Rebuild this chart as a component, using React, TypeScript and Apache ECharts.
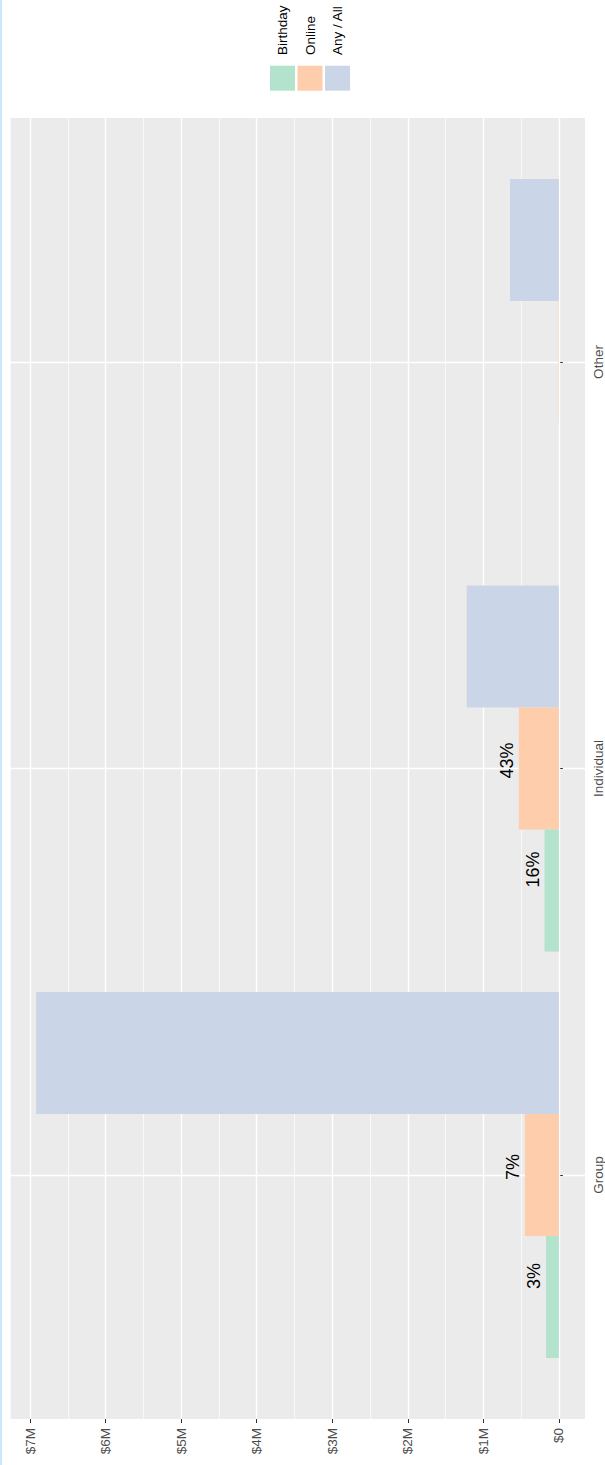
import React, { useEffect, useRef } from "react";
import * as echarts from "echarts";

const categories = ["Group", "Individual", "Other"];
const seriesNames = ["Birthday", "Online", "Any / All"];
const birthday = [170000, 190000, 0];
const online = [450000, 530000, 5000];
const anyAll = [6920000, 1220000, 647000];
const birthdayPct = ["3%", "16%", ""];
const onlinePct = ["7%", "43%", ""];
const majorTicks = [0, 1000000, 2000000, 3000000, 4000000, 5000000, 6000000, 7000000];
const colors = ["#B3E2CD", "#FDCDAC", "#CBD5E8"];

const FONT = "'Liberation Sans', Arial, sans-serif";

export default function App() {
  const ref = useRef<HTMLDivElement>(null);
  useEffect(() => {
    if (!ref.current) return;
    const chart = echarts.init(ref.current, null, { renderer: "svg" });
    const maxVal = Math.max(...birthday, ...online, ...anyAll);
    const xMin = -0.05 * maxVal;
    const xMax = 1.05 * maxVal;
    const gridLeft = 10;
    const gridWidth = 575;
    const panelTop = 118;
    const panelHeight = 1301;
    const catTop = 362;
    const catHeight = 813;

    const fmt = (v: number) => (v === 0 ? "$0" : "$" + v / 1e6 + "M");

    const seriesData = [birthday, online, anyAll];
    const pctData = [birthdayPct, onlinePct, null];
    const offsets = [[21, 0], [8, 0], [0, 0]];

    // echarts stacks horizontal dodged bars top-down, so add in reverse order
    const order = [2, 1, 0];
    const series = order.map((i) => ({
      type: "bar",
      name: seriesNames[i],
      xAxisIndex: 2,
      yAxisIndex: 1,
      data: seriesData[i],
      clip: false,
      barGap: "0%",
      barCategoryGap: "10%",
      itemStyle: { color: colors[i] },
      label: pctData[i]
        ? {
            show: true,
            position: "left",
            distance: 3,
            rotate: 90,
            align: "center",
            verticalAlign: "bottom",
            offset: offsets[i],
            fontSize: 18,
            fontFamily: FONT,
            color: "#000000",
            formatter: (p: any) => (pctData[i] as string[])[p.dataIndex],
          }
        : { show: false },
    }));

    const legendGraphics: any[] = [];
    seriesNames.forEach((n, i) => {
      legendGraphics.push({
        type: "rect",
        x: 270 + i * 27.5,
        y: 65.7,
        shape: { x: 0, y: 0, width: 25, height: 25 },
        style: { fill: colors[i] },
      });
      legendGraphics.push({
        type: "text",
        x: 282.5 + i * 27.5,
        y: 55,
        rotation: Math.PI / 2,
        style: {
          text: n,
          align: "left",
          verticalAlign: "middle",
          fontSize: 13.5,
          fontFamily: FONT,
          fill: "#000000",
        },
      });
    });

    chart.setOption({
      animation: false,
      backgroundColor: "#FFFFFF",
      textStyle: { fontFamily: FONT },
      grid: [
        {
          left: gridLeft,
          top: panelTop,
          width: gridWidth,
          height: panelHeight,
          show: true,
          backgroundColor: "#EBEBEB",
          borderWidth: 0,
        },
        {
          left: gridLeft,
          top: catTop,
          width: gridWidth,
          height: catHeight,
        },
      ],
      xAxis: [
        {
          type: "value",
          gridIndex: 0,
          min: xMin,
          max: xMax,
          inverse: true,
          minInterval: 1000000,
          maxInterval: 1000000,
          axisLine: { show: false },
          axisTick: {
            show: true,
            length: 4,
            customValues: majorTicks,
            lineStyle: { color: "#333333", width: 1 },
          },
          axisLabel: {
            customValues: majorTicks,
            rotate: 90,
            margin: 9,
            fontSize: 13.5,
            color: "#4D4D4D",
            fontFamily: FONT,
            formatter: fmt,
          },
          splitLine: { show: true, lineStyle: { color: "#FFFFFF", width: 1.4 } },
          z: 2,
        },
        {
          type: "value",
          gridIndex: 0,
          min: xMin,
          max: xMax,
          inverse: true,
          minInterval: 500000,
          maxInterval: 500000,
          position: "bottom",
          axisLine: { show: false },
          axisTick: { show: false },
          axisLabel: { show: false },
          splitLine: { show: true, lineStyle: { color: "#FFFFFF", width: 0.7 } },
          z: 1,
        },
        {
          type: "value",
          gridIndex: 1,
          min: xMin,
          max: xMax,
          inverse: true,
          show: false,
        },
      ],
      yAxis: [
        {
          type: "value",
          gridIndex: 0,
          min: 0,
          max: 1,
          show: false,
        },
        {
          type: "category",
          gridIndex: 1,
          data: categories,
          position: "right",
          boundaryGap: false,
          axisLine: { show: false },
          axisTick: { show: true, length: 4, lineStyle: { color: "#333333", width: 1 } },
          axisLabel: {
            rotate: 90,
            margin: 6,
            fontSize: 13.5,
            color: "#4D4D4D",
            fontFamily: FONT,
          },
          splitLine: { show: true, lineStyle: { color: "#FFFFFF", width: 1.4 } },
        },
      ],
      series,
      graphic: [
        {
          type: "rect",
          x: 0,
          y: 0,
          shape: { x: 0, y: 0, width: 2, height: 1465 },
          style: { fill: "#CCE8FB" },
        },
        ...legendGraphics,
      ],
    });
    return () => chart.dispose();
  }, []);
  return (
    <div
      ref={ref}
      style={{ position: "fixed", left: 0, top: 0, width: 605, height: 1465 }}
    />
  );
}
